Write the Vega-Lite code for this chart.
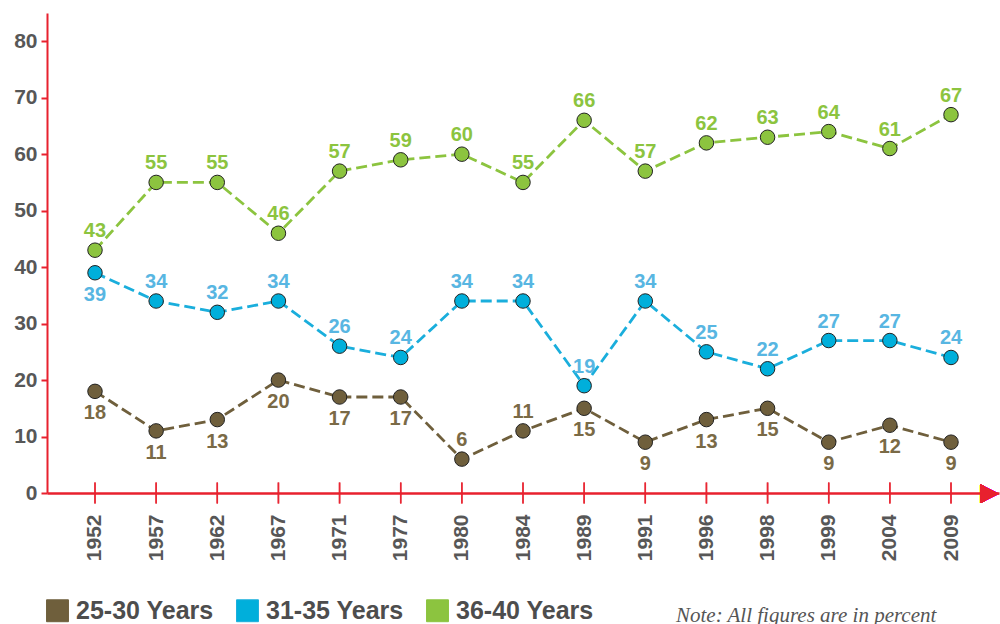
{
  "$schema": "https://vega.github.io/schema/vega-lite/v6.json",
  "width": 952,
  "height": 480,
  "autosize": {"type": "none"},
  "padding": {"left": 47, "top": 13, "right": 1, "bottom": 131},
  "background": "white",
  "config": {"view": {"stroke": null}, "font": "Liberation Sans"},
  "title": {
    "text": "Note: All figures are in percent",
    "orient": "bottom",
    "anchor": "start",
    "frame": "group",
    "dx": 629,
    "offset": -2,
    "baseline": "alphabetic",
    "font": "Liberation Serif",
    "fontStyle": "italic",
    "fontWeight": "normal",
    "fontSize": 21,
    "color": "#555555"
  },
  "data": {
    "values": [
      {"year": "1952", "series": "25-30 Years", "value": 18},
      {"year": "1957", "series": "25-30 Years", "value": 11},
      {"year": "1962", "series": "25-30 Years", "value": 13},
      {"year": "1967", "series": "25-30 Years", "value": 20},
      {"year": "1971", "series": "25-30 Years", "value": 17},
      {"year": "1977", "series": "25-30 Years", "value": 17},
      {"year": "1980", "series": "25-30 Years", "value": 6},
      {"year": "1984", "series": "25-30 Years", "value": 11},
      {"year": "1989", "series": "25-30 Years", "value": 15},
      {"year": "1991", "series": "25-30 Years", "value": 9},
      {"year": "1996", "series": "25-30 Years", "value": 13},
      {"year": "1998", "series": "25-30 Years", "value": 15},
      {"year": "1999", "series": "25-30 Years", "value": 9},
      {"year": "2004", "series": "25-30 Years", "value": 12},
      {"year": "2009", "series": "25-30 Years", "value": 9},
      {"year": "1952", "series": "31-35 Years", "value": 39},
      {"year": "1957", "series": "31-35 Years", "value": 34},
      {"year": "1962", "series": "31-35 Years", "value": 32},
      {"year": "1967", "series": "31-35 Years", "value": 34},
      {"year": "1971", "series": "31-35 Years", "value": 26},
      {"year": "1977", "series": "31-35 Years", "value": 24},
      {"year": "1980", "series": "31-35 Years", "value": 34},
      {"year": "1984", "series": "31-35 Years", "value": 34},
      {"year": "1989", "series": "31-35 Years", "value": 19},
      {"year": "1991", "series": "31-35 Years", "value": 34},
      {"year": "1996", "series": "31-35 Years", "value": 25},
      {"year": "1998", "series": "31-35 Years", "value": 22},
      {"year": "1999", "series": "31-35 Years", "value": 27},
      {"year": "2004", "series": "31-35 Years", "value": 27},
      {"year": "2009", "series": "31-35 Years", "value": 24},
      {"year": "1952", "series": "36-40 Years", "value": 43},
      {"year": "1957", "series": "36-40 Years", "value": 55},
      {"year": "1962", "series": "36-40 Years", "value": 55},
      {"year": "1967", "series": "36-40 Years", "value": 46},
      {"year": "1971", "series": "36-40 Years", "value": 57},
      {"year": "1977", "series": "36-40 Years", "value": 59},
      {"year": "1980", "series": "36-40 Years", "value": 60},
      {"year": "1984", "series": "36-40 Years", "value": 55},
      {"year": "1989", "series": "36-40 Years", "value": 66},
      {"year": "1991", "series": "36-40 Years", "value": 57},
      {"year": "1996", "series": "36-40 Years", "value": 62},
      {"year": "1998", "series": "36-40 Years", "value": 63},
      {"year": "1999", "series": "36-40 Years", "value": 64},
      {"year": "2004", "series": "36-40 Years", "value": 61},
      {"year": "2009", "series": "36-40 Years", "value": 67}
    ]
  },
  "encoding": {
    "x": {
      "field": "year",
      "type": "ordinal",
      "scale": {"type": "point", "padding": 0.785},
      "axis": {
        "title": null,
        "labelAngle": -90,
        "labelAlign": "right",
        "labelBaseline": "middle",
        "labelFont": "Liberation Sans",
        "labelFontWeight": "bold",
        "labelFontSize": 21,
        "labelColor": "#575757",
        "labelPadding": 21,
        "ticks": false,
        "domainColor": "#e8212e",
        "domainWidth": 2.5,
        "grid": false
      }
    },
    "y": {
      "field": "value",
      "type": "quantitative",
      "scale": {"domain": [0, 85], "nice": false},
      "axis": {
        "title": null,
        "values": [0, 10, 20, 30, 40, 50, 60, 70, 80],
        "labelFont": "Liberation Sans",
        "labelFontWeight": "bold",
        "labelFontSize": 21,
        "labelColor": "#575757",
        "labelPadding": 4,
        "tickSize": 6,
        "tickColor": "#e8212e",
        "tickWidth": 2,
        "domainColor": "#e8212e",
        "domainWidth": 2,
        "grid": false
      }
    }
  },
  "layer": [
    {
      "mark": {"type": "tick", "orient": "vertical", "size": 21, "thickness": 1.5, "color": "#e8212e"},
      "encoding": {"y": {"datum": 0}}
    },
    {
      "mark": {"type": "text", "text": "▶", "align": "right", "baseline": "middle", "fontSize": 24, "font": "DejaVu Sans", "color": "#e8212e"},
      "encoding": {"x": {"value": "width"}, "y": {"datum": 0}}
    },
    {
      "mark": {"type": "point", "filled": true, "size": 480, "opacity": 0, "shape": "square"},
      "encoding": {
        "color": {
          "field": "series",
          "type": "nominal",
          "scale": {"domain": ["25-30 Years", "31-35 Years", "36-40 Years"], "range": ["#6f5f3c", "#00afdb", "#8cc43f"]},
          "legend": {
            "title": null,
            "orient": "none",
            "direction": "horizontal",
            "legendX": -2,
            "legendY": 585,
            "symbolType": "square",
            "symbolSize": 480,
            "symbolStrokeColor": "#333333",
            "symbolStrokeWidth": 1,
            "symbolOpacity": 1,
            "labelFont": "Liberation Sans",
            "labelFontWeight": "bold",
            "labelFontSize": 25,
            "labelColor": "#4d4d4d",
            "labelOffset": 6,
            "columnPadding": 20,
            "labelLimit": 300
          }
        }
      }
    },
    {
      "mark": {"type": "line", "strokeWidth": 2.8, "strokeDash": [11, 5]},
      "encoding": {
        "stroke": {
          "field": "series",
          "type": "nominal",
          "scale": {"domain": ["25-30 Years", "31-35 Years", "36-40 Years"], "range": ["#6f5f3c", "#1aaedc", "#8cc43f"]},
          "legend": null
        }
      }
    },
    {
      "mark": {"type": "circle", "size": 210, "opacity": 1, "stroke": "#222222", "strokeWidth": 1},
      "encoding": {
        "color": {"field": "series", "type": "nominal"}
      }
    },
    {
      "transform": [{"filter": "!((datum.series == '25-30 Years' && datum.year != '1980' && datum.year != '1984') || (datum.series == '31-35 Years' && datum.year == '1952'))"}],
      "mark": {"type": "text", "dy": -19, "baseline": "middle", "font": "Liberation Sans", "fontWeight": "bold", "fontSize": 20},
      "encoding": {
        "text": {"field": "value", "type": "quantitative"},
        "fill": {
          "field": "series",
          "type": "nominal",
          "scale": {"domain": ["25-30 Years", "31-35 Years", "36-40 Years"], "range": ["#7a6a46", "#58b6e2", "#8cc43f"]},
          "legend": null
        }
      }
    },
    {
      "transform": [{"filter": "(datum.series == '25-30 Years' && datum.year != '1980' && datum.year != '1984') || (datum.series == '31-35 Years' && datum.year == '1952')"}],
      "mark": {"type": "text", "dy": 22, "baseline": "middle", "font": "Liberation Sans", "fontWeight": "bold", "fontSize": 20},
      "encoding": {
        "text": {"field": "value", "type": "quantitative"},
        "fill": {
          "field": "series",
          "type": "nominal",
          "scale": {"domain": ["25-30 Years", "31-35 Years", "36-40 Years"], "range": ["#7a6a46", "#58b6e2", "#8cc43f"]},
          "legend": null
        }
      }
    }
  ]
}
